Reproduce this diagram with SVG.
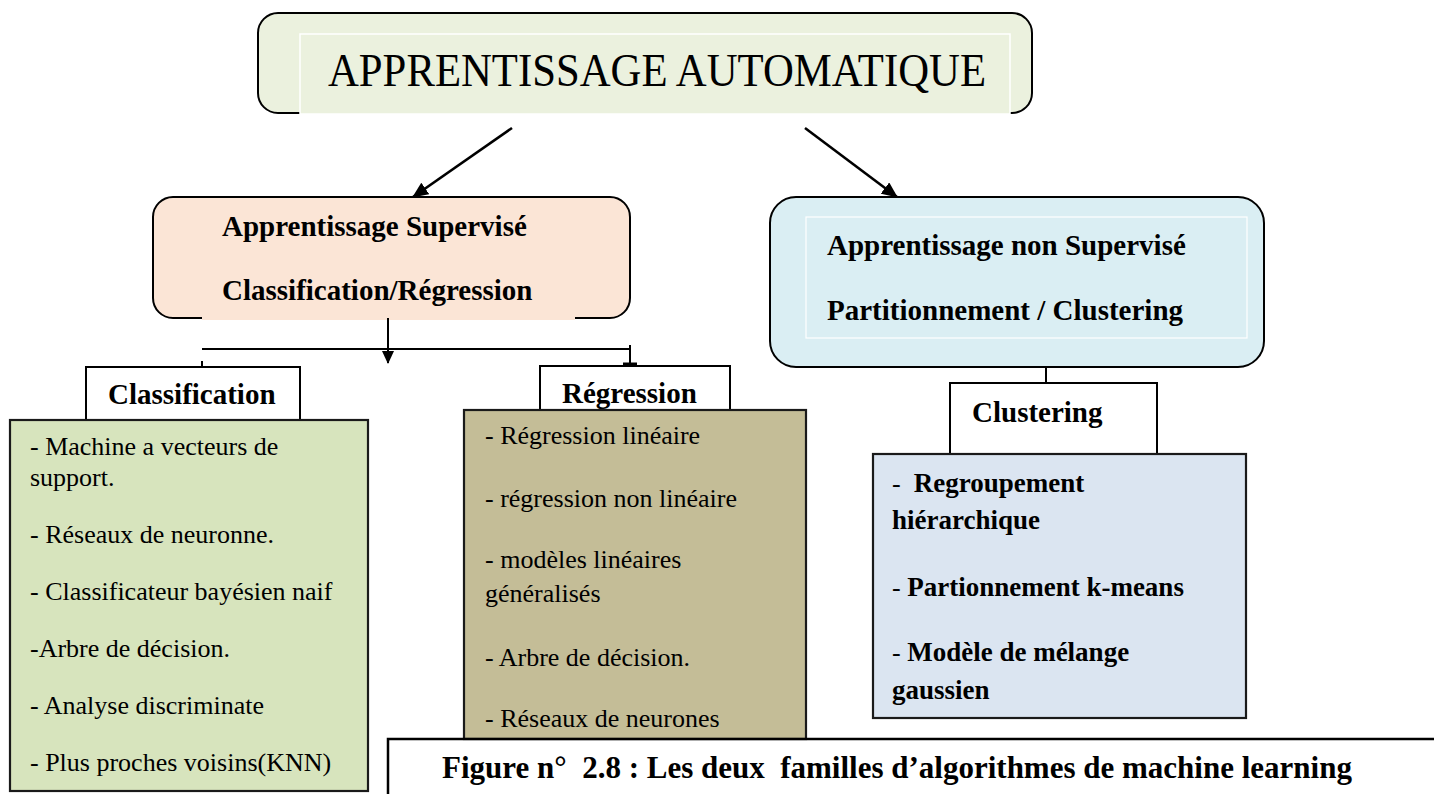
<svg xmlns="http://www.w3.org/2000/svg" width="1434" height="794" viewBox="0 0 1434 794">
  <style>
    .serif { font-family: "Liberation Serif", "Times New Roman", serif; fill: #000; }
    .bold { font-weight: bold; }
    .head { font-size: 29px; font-weight: bold; }
    .item { font-size: 26px; }
    .bitem { font-size: 27px; font-weight: bold; }
    .frame { stroke: #000; stroke-width: 2; }
    .panel { stroke: #1a1a1a; stroke-width: 2.2; }
    .wire { stroke: #000; stroke-width: 2; fill: none; }
    .diag { stroke: #000; stroke-width: 2.6; fill: none; }
  </style>
  <defs>
    <marker id="head" viewBox="0 0 16 14" refX="15" refY="7" markerWidth="16" markerHeight="14" markerUnits="userSpaceOnUse" orient="auto">
      <path d="M0,0 L16,7 L0,14 Z" fill="#000"/>
    </marker>
    <marker id="head-small" viewBox="0 0 13 12" refX="12" refY="6" markerWidth="13" markerHeight="12" markerUnits="userSpaceOnUse" orient="auto">
      <path d="M0,0 L13,6 L0,12 Z" fill="#000"/>
    </marker>
  </defs>

  <rect width="1434" height="794" fill="#fff"/>

  <!-- root node -->
  <g id="root">
    <rect x="258" y="13" width="774" height="100" rx="20" fill="#EBF1DE" class="frame"/>
    <rect x="300" y="34" width="710" height="80" fill="#EBF1DE" stroke="#fff" stroke-width="1.5"/>
    <text x="657" y="86" text-anchor="middle" class="serif" font-size="46" textLength="658" lengthAdjust="spacingAndGlyphs">APPRENTISSAGE AUTOMATIQUE</text>
  </g>

  <!-- supervised branch -->
  <g id="supervise">
    <rect x="153" y="197" width="477" height="121" rx="20" fill="#FBE5D6" class="frame"/>
    <rect x="202" y="300" width="373" height="20" fill="#FBE5D6"/>
    <text x="222" y="236" class="serif head">Apprentissage Supervisé</text>
    <text x="222" y="300" class="serif head">Classification/Régression</text>
  </g>

  <!-- unsupervised branch -->
  <g id="non-supervise">
    <rect x="770" y="197" width="494" height="170" rx="26" fill="#DAEEF3" class="frame"/>
    <rect x="806" y="217" width="441" height="121" fill="#DAEEF3" stroke="#fff" stroke-width="1.2"/>
    <text x="827" y="255" class="serif head">Apprentissage non Supervisé</text>
    <text x="827" y="320" class="serif head">Partitionnement / Clustering</text>
  </g>

  <!-- classification -->
  <g id="classification">
    <rect x="86" y="367" width="214" height="53" fill="#fff" class="frame"/>
    <text x="108" y="404" class="serif head">Classification</text>
  </g>
  <g id="classification-liste">
    <rect x="10" y="420" width="358" height="371" fill="#D7E4BD" class="panel"/>
    <g class="serif item">
      <text x="30" y="455">- Machine a vecteurs de</text>
      <text x="30" y="486">support.</text>
      <text x="30" y="543">- Réseaux de neuronne.</text>
      <text x="30" y="600">- Classificateur bayésien naif</text>
      <text x="30" y="657">-Arbre de décision.</text>
      <text x="30" y="714">- Analyse discriminate</text>
      <text x="30" y="771">- Plus proches voisins(KNN)</text>
    </g>
  </g>

  <!-- regression -->
  <g id="regression">
    <rect x="540" y="366" width="190" height="44" fill="#fff" class="frame"/>
    <text x="562" y="403" class="serif head">Régression</text>
  </g>
  <g id="regression-liste">
    <rect x="464" y="410" width="342" height="329" fill="#C4BD97" class="panel"/>
    <g class="serif item">
      <text x="485" y="444">- Régression linéaire</text>
      <text x="485" y="507">- régression non linéaire</text>
      <text x="485" y="568">- modèles linéaires</text>
      <text x="485" y="602">généralisés</text>
      <text x="485" y="666">- Arbre de décision.</text>
      <text x="485" y="727">- Réseaux de neurones</text>
    </g>
  </g>

  <!-- clustering -->
  <g id="clustering">
    <rect x="950" y="383" width="207" height="71" fill="#fff" class="frame"/>
    <text x="972" y="422" class="serif head">Clustering</text>
  </g>
  <g id="clustering-liste">
    <rect x="873" y="454" width="373" height="264" fill="#DBE5F1" class="panel"/>
    <g class="serif">
      <text x="892" y="492" xml:space="preserve"><tspan class="item">-  </tspan><tspan class="bitem">Regroupement</tspan></text>
      <text x="892" y="529" class="bitem">hiérarchique</text>
      <text x="892" y="596"><tspan class="item">- </tspan><tspan class="bitem">Partionnement k-means</tspan></text>
      <text x="892" y="661"><tspan class="item">- </tspan><tspan class="bitem">Modèle de mélange</tspan></text>
      <text x="892" y="699" class="bitem">gaussien</text>
    </g>
  </g>

  <!-- caption frame -->
  <g id="legende">
    <path d="M388,794 V739 H1434" fill="none" stroke="#000" stroke-width="2.5"/>
    <text x="442" y="778" class="serif bold" font-size="31" xml:space="preserve">Figure n°  2.8 : Les deux  familles d’algorithmes de machine learning</text>
  </g>

  <!-- connectors -->
  <g id="connecteurs">
    <line x1="512" y1="128" x2="413" y2="197" class="diag" marker-end="url(#head)"/>
    <line x1="805" y1="128" x2="897" y2="197" class="diag" marker-end="url(#head)"/>
    <line x1="388" y1="318" x2="388" y2="363" class="wire" marker-end="url(#head-small)"/>
    <line x1="202" y1="349" x2="630" y2="349" class="wire"/>
    <line x1="202" y1="361" x2="202" y2="367" class="wire"/>
    <line x1="630" y1="345" x2="630" y2="363" class="wire"/>
    <line x1="623" y1="364" x2="637" y2="364" stroke="#000" stroke-width="3"/>
    <line x1="1046" y1="367" x2="1046" y2="383" class="wire"/>
  </g>
</svg>
